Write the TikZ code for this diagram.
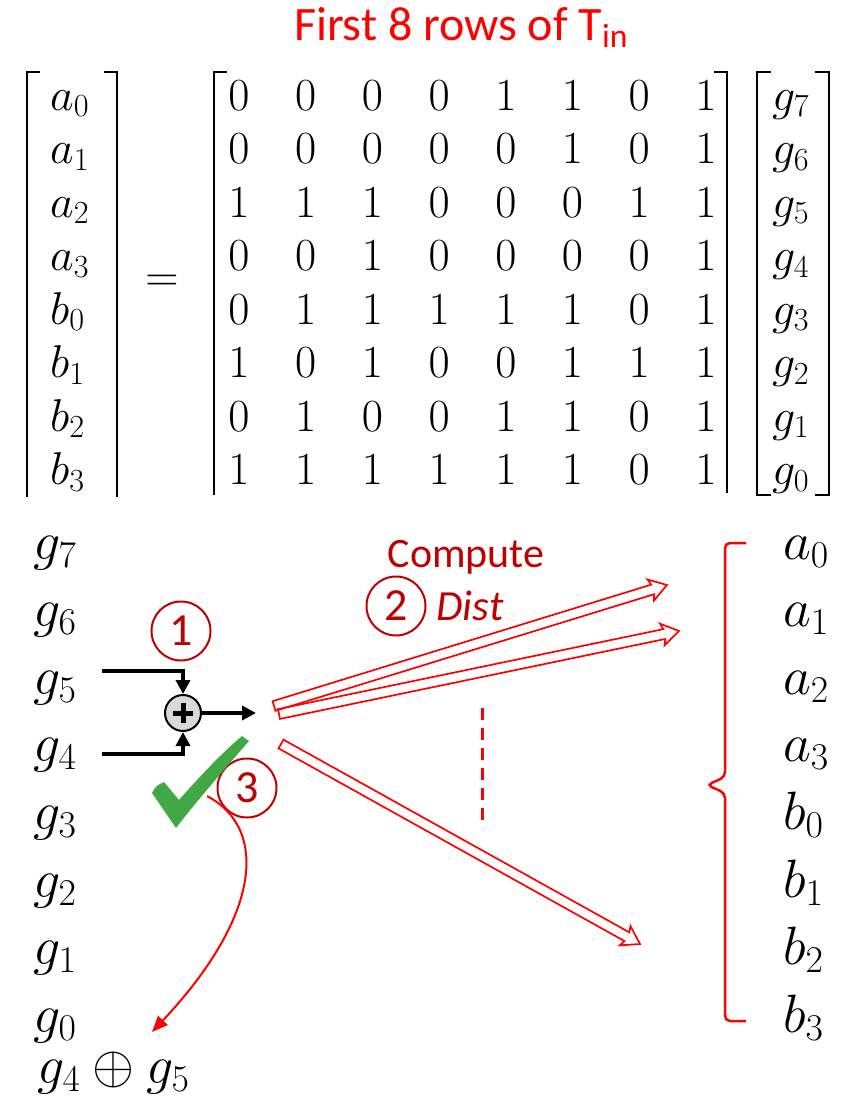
\RequirePackage{fix-cm}
\documentclass[tikz,border=0pt]{standalone}
\usepackage{fontspec}
\setmainfont{Carlito}
\usetikzlibrary{calc,arrows.meta}
\definecolor{dred}{HTML}{C00000}
\definecolor{ckgreen}{HTML}{40A845}
\newcommand\hollowarrow[2]{%
  \path ($(#2)!15pt!(#1)$) coordinate (hb) ($(#2)!17pt!(#1)$) coordinate (hb2);
  \draw[hol] ($(#1)!5pt!90:(#2)$) -- ($(hb)!5pt!-90:(#1)$) -- ($(hb2)!11pt!-90:(#1)$) -- (#2)
    -- ($(hb2)!11pt!90:(#1)$) -- ($(hb)!5pt!90:(#1)$) -- ($(#1)!5pt!-90:(#2)$) -- cycle;}
\begin{document}
\begin{tikzpicture}[x=1pt,y=-1pt,
  mt/.style={inner sep=0pt, font=\fontsize{46}{52}\selectfont},
  mb/.style={inner sep=0pt, font=\fontsize{54}{60}\selectfont},
  brk/.style={line width=2.6pt},
  cnum/.style={circle, draw=dred, line width=2pt, minimum size=59pt, inner sep=0pt, text=dred, font=\fontsize{46}{50}\selectfont},
  blk/.style={line width=3.5pt, -{Triangle[length=14pt,width=14pt]}},
  hol/.style={draw=red, line width=1.7pt, line join=miter},
]
\useasboundingbox (0,0) rectangle (856,1098);

% title
\node[text=red, font=\fontsize{48}{56}\selectfont, anchor=base] (title) at (461,40) {First 8 rows of T\textsubscript{in}};

% brackets
\draw[brk] (40,72) -- (27,72) -- (27,497);
\draw[brk] (104,72) -- (117,72) -- (117,497);
\draw[brk] (227,72) -- (214,72) -- (214,495);
\draw[brk] (714,72) -- (727,72) -- (727,493);
\draw[brk] (771,72) -- (757,72) -- (757,495) -- (771,495);
\draw[brk] (815,72) -- (829,72) -- (829,495) -- (815,495);

% matrix
\foreach \r [count=\i from 0] in {{0,0,0,0,1,1,0,1},{0,0,0,0,0,1,0,1},{1,1,1,0,0,0,1,1},{0,0,1,0,0,0,0,1},{0,1,1,1,1,1,0,1},{1,0,1,0,0,1,1,1},{0,1,0,0,1,1,0,1},{1,1,1,1,1,1,0,1}}{
  \foreach \v [count=\j from 0] in \r {
    \node[mt, anchor=base] (m\i\j) at ({239+66.7*\j},{110+53.5*\i}) {$\v$};
  }
}
\foreach \s [count=\i from 0] in {a_0,a_1,a_2,a_3,b_0,b_1,b_2,b_3}{
  \node[mt, anchor=base west] (v\i) at (50,{110+53.5*\i}) {$\s$};
  \node[mb, anchor=base west] (r\i) at (783,{559+67.6*\i}) {$\s$};
}
\foreach \k [count=\i from 0] in {7,6,5,4,3,2,1,0}{
  \node[mt, anchor=base west] (gv\i) at (772,{110+53.5*\i}) {$g_{\k}$};
  \node[mb, anchor=base west] (gl\k) at (33,{559+67.6*\i}) {$g_{\k}$};
}
\node[mt] (eq) at (162,283) {$=$};
\node[mb, anchor=base west] (res) at (37,1083) {$g_4\oplus g_5$};

% xor gadget
\node[circle, draw, line width=2pt, fill=gray!30, minimum size=36pt, inner sep=0pt] (x) at (183,713) {};
\draw[line width=5pt] ($(x)+(-10,0)$) -- ($(x)+(10,0)$) ($(x)+(0,-10)$) -- ($(x)+(0,10)$);
\coordinate (g5e) at (102,671);
\coordinate (g4e) at (102,754);
\coordinate (xo) at (256,713);
\draw[blk] (g5e) -| (x.north);
\draw[blk] (g4e) -| (x.south);
\draw[blk] (x.east) -- (xo);

% numbered circles and labels
\node[cnum] (c1) at (181,631) {1};
\node[cnum] (c2) at (396,606) {2};
\node[cnum] (c3) at (247,788) {3};
\node[text=dred, font=\fontsize{42}{48}\selectfont, anchor=base] (comp) at (466,567) {Compute};
\node[text=dred, font=\fontsize{43}{48}\selectfont\itshape, anchor=base west] (dist) at (433,620) {Dist};

% hollow arrows
\coordinate (s1) at (274,706); \coordinate (e1) at (667,585);
\coordinate (s2) at (279,714); \coordinate (e2) at (679,631);
\coordinate (s3) at (281,744); \coordinate (e3) at (640,944);
\hollowarrow{s1}{e1}
\hollowarrow{s2}{e2}
\hollowarrow{s3}{e3}

% dashed
\coordinate (d1) at (482,708); \coordinate (d2) at (482,822);
\draw[red, line width=3pt, dash pattern=on 12pt off 8pt] (d1) -- (d2);

% brace
\draw[red, line width=2.5pt, rounded corners=5pt] (746,543) -- (725,543) -- (725,777) -- (707,785) -- (725,793) -- (725,1021) -- (746,1021);

% check mark
\fill[ckgreen] (152,793) .. controls (156,786) .. (164,782) -- (179,800)
  .. controls (200,776) and (222,753) .. (242,736) -- (249,741)
  .. controls (222,772) and (196,802) .. (176,828) -- cycle;

% curved arrow
\coordinate (cs) at (207,796); \coordinate (ce) at (152,1032);
\draw[red, line width=2pt, -{Triangle[length=16pt,width=13pt]}] (cs) .. controls (268,828) and (262,915) .. (ce);
\end{tikzpicture}
\end{document}
